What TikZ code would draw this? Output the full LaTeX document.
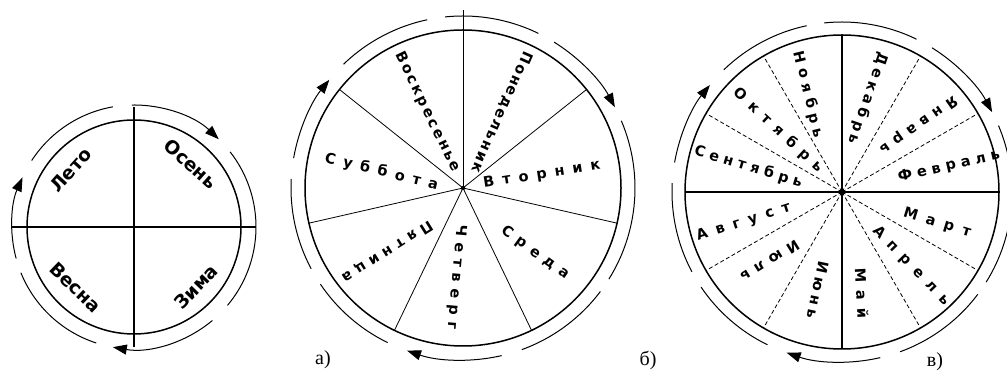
\documentclass[tikz,border=0pt]{standalone}
\usepackage{fontspec}
\setmainfont{DejaVu Sans}
\newfontfamily\lserif{Liberation Serif}
\usetikzlibrary{arrows.meta}
\makeatletter
\def\sp@loop#1{\ifx#1\@nil\else\hfil#1\expandafter\sp@loop\fi}
\def\sp@first#1{#1\sp@loop}
\newcommand\spreadtext[2]{\hbox to #1{\sp@first#2\@nil}}
\makeatother
\tikzset{
  rim/.style={line width=1.5pt},
  outerarc/.style={line width=1pt},
  arrowarc/.style={line width=1pt,-{Triangle[length=14pt,width=10pt]}},
  spoke/.style={line width=0.8pt},
  diam/.style={line width=1.4pt},
  dspoke/.style={line width=0.8pt,dash pattern=on 4pt off 2.5pt},
  season/.style={font=\bfseries\fontsize{18.5}{18.5}\selectfont,inner sep=0pt},
  lab/.style={font=\bfseries\fontsize{14.5}{14.5}\selectfont,inner sep=0pt},
  caption/.style={font=\lserif\fontsize{20}{20}\selectfont,inner sep=0pt}
}
\begin{document}
\begin{tikzpicture}[x=1pt,y=1pt]
\useasboundingbox (0,0) rectangle (1007,374);
% ---------------- left circle: seasons
\coordinate (L) at (134,147);
\draw[rim] (L) circle[radius=107];
\draw[diam] ([shift={(180:122)}]L) -- ([shift={(0:122)}]L);
\draw[diam,line width=1.1pt] ([shift={(90:120)}]L) -- ([shift={(-90:120)}]L);
\foreach \a/\b in {147/100, 38/-40, -108/-158}
  \draw[outerarc] ([shift={(\a:122)}]L) arc[start angle=\a,end angle=\b,radius=122];
\foreach \a/\b in {195/156, 91/46, -50/-100}
  \draw[arrowarc] ([shift={(\a:122)}]L) arc[start angle=\a,end angle=\b,radius=122];
\node[season,rotate=48]  (leto)  at ([shift={(138:85)}]L) {Лето};
\node[season,rotate=-42] (osen)  at ([shift={(48:85)}]L)  {Осень};
\node[season,rotate=-44] (vesna) at ([shift={(-134:84)}]L) {Весна};
\node[season,rotate=46]  (zima)  at ([shift={(-44:86)}]L)  {Зима};
% ---------------- middle circle: days
\coordinate (M) at (463,186);
\draw[rim] (M) circle[radius=158];
\draw[spoke] (M) -- ([shift={(90:178)}]M);
\foreach \t in {38.57,-12.86,-64.29,-115.71,-167.14,141.43}
  \draw[spoke] (M) -- ([shift={(\t:158)}]M);
\fill (M) circle[radius=2.2];
\foreach \a/\b in {134/102, 96/64, 23/-32, -37/-70, -116/-146, -152/-183}
  \draw[outerarc] ([shift={(\a:172)}]M) arc[start angle=\a,end angle=\b,radius=172];
\foreach \a/\b in {170/141, 58/28, -77/-109}
  \draw[arrowarc] ([shift={(\a:172)}]M) arc[start angle=\a,end angle=\b,radius=172];
\node[lab,rotate=-114] (pon) at ([shift={(63:85)}]M)  {\spreadtext{131pt}{Понедельник}};
\node[lab,rotate=9]    (vto) at ([shift={(9.5:80)}]M) {\spreadtext{118pt}{Вторник}};
\node[lab,rotate=-36]  (sre) at ([shift={(-42:97)}]M) {\spreadtext{80pt}{Среда}};
\node[lab,rotate=-95]  (che) at ([shift={(-94.5:89)}]M) {\spreadtext{105pt}{Четверг}};
\node[lab,rotate=-148] (pya) at ([shift={(-140:99)}]M) {\spreadtext{104pt}{Пятница}};
\node[lab,rotate=-13.6] (sub) at ([shift={(168.8:83)}]M) {\spreadtext{116pt}{Суббота}};
\node[lab,rotate=-64]  (vos) at ([shift={(115:84)}]M) {\spreadtext{131pt}{Воскресенье}};
% ---------------- right circle: months
\coordinate (R) at (842,182);
\draw[rim] (R) circle[radius=157];
\draw[diam] ([shift={(180:157)}]R) -- ([shift={(0:157)}]R);
\draw[diam] ([shift={(90:157)}]R) -- ([shift={(-90:157)}]R);
\foreach \t in {30,60,120,150,210,240,300,330}
  \draw[dspoke] (R) -- ([shift={(\t:157)}]R);
\fill (R) circle[radius=3];
\foreach \a/\b in {134/102, 96/64, 23/-32, -37/-70, -116/-146, -152/-183}
  \draw[outerarc] ([shift={(\a:170)}]R) arc[start angle=\a,end angle=\b,radius=170];
\foreach \a/\b in {170/141, 58/28, -77/-109}
  \draw[arrowarc] ([shift={(\a:170)}]R) arc[start angle=\a,end angle=\b,radius=170];
\node[lab,rotate=-109] (dec) at ([shift={(74.5:97)}]R) {\spreadtext{96pt}{Декабрь}};
\node[lab,rotate=-145] (jan) at ([shift={(41.5:102)}]R) {\spreadtext{91pt}{Январь}};
\node[lab,rotate=13]   (feb) at ([shift={(13.4:110)}]R) {\spreadtext{104pt}{Февраль}};
\node[lab,rotate=-17]  (mar) at ([shift={(-18:100)}]R) {\spreadtext{70pt}{Март}};
\node[lab,rotate=-46]  (apr) at ([shift={(-47:101)}]R) {\spreadtext{104pt}{Апрель}};
\node[lab,rotate=-87]  (may) at ([shift={(-79:103)}]R) {\spreadtext{50pt}{Май}};
\node[lab,rotate=-102] (jun) at ([shift={(-104:101)}]R) {\spreadtext{59pt}{Июнь}};
\node[lab,rotate=-148] (jul) at ([shift={(-136:100)}]R) {\spreadtext{66pt}{Июль}};
\node[lab,rotate=18]   (aug) at ([shift={(-163:103)}]R) {\spreadtext{98pt}{Август}};
\node[lab,rotate=-17]  (sep) at ([shift={(165:97)}]R) {\spreadtext{112pt}{Сентябрь}};
\node[lab,rotate=-43]  (oct) at ([shift={(136:89)}]R) {\spreadtext{117pt}{Октябрь}};
\node[lab,rotate=-76.5] (nov) at ([shift={(109:103)}]R) {\spreadtext{89pt}{Ноябрь}};
% ---------------- captions
\node[caption] (ca) at (323,14) {а)};
\node[caption] (cb) at (648,14) {б)};
\node[caption] (cc) at (935,12) {в)};
\end{tikzpicture}
\end{document}
